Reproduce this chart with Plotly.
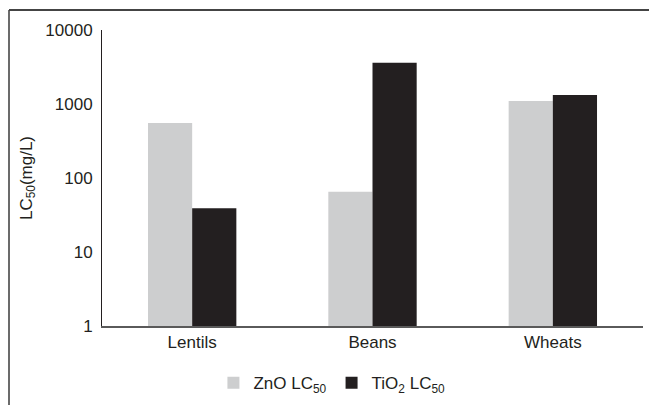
import plotly.graph_objects as go

categories = ["Lentils", "Beans", "Wheats"]
zno_lc50 = [555, 65, 1100]
tio2_lc50 = [39, 3600, 1320]
y_ticks = [1, 10, 100, 1000, 10000]
y_tick_labels = ["1", "10", "100", "1000", "10000"]

FONT = "Liberation Sans, Arial, sans-serif"
TXT = "#231f20"

fig = go.Figure()
fig.add_trace(go.Bar(name="ZnO LC<sub>50</sub>", x=categories, y=zno_lc50,
                     marker=dict(color="#cdcecf", line=dict(width=0))))
fig.add_trace(go.Bar(name="TiO<sub>2</sub> LC<sub>50</sub>", x=categories, y=tio2_lc50,
                     marker=dict(color="#231f20", line=dict(width=0))))

fig.update_layout(
    width=649, height=405,
    margin=dict(l=102, r=6, t=30, b=79, autoexpand=False),
    paper_bgcolor="white", plot_bgcolor="white",
    font=dict(family=FONT, size=17, color=TXT),
    barmode="group", bargap=0.51, bargroupgap=0,
    showlegend=True,
    legend=dict(orientation="h", x=0.425, xanchor="center", y=-0.193, yanchor="middle",
                font=dict(size=17, color=TXT), itemwidth=30, tracegroupgap=0),
    xaxis=dict(showline=True, linecolor="#5a5a5a", linewidth=1.5, ticks="",
               showgrid=False, automargin=False, tickfont=dict(size=17, color=TXT)),
    yaxis=dict(type="log", range=[0, 4], tickvals=y_ticks, ticktext=y_tick_labels,
               showline=True, linecolor="#231f20", linewidth=1, ticks="",
               showgrid=False, zeroline=False, automargin=False, ticklabelstandoff=5,
               tickfont=dict(size=17, color=TXT),
               title=dict(text="LC<sub>50</sub>(mg/L)", font=dict(size=17, color=TXT), standoff=8)),
    shapes=[
        dict(type="line", xref="paper", yref="paper", x0=-0.1719, x1=-0.1719, y0=1.0676, y1=-0.27,
             line=dict(color="#6b6b6b", width=2)),
        dict(type="line", xref="paper", yref="paper", x0=-0.1719, x1=1.02, y0=1.0676, y1=1.0676,
             line=dict(color="#444444", width=2)),
    ],
)

fig.write_html("out.html", config={"displayModeBar": False},
               post_script="document.body.style.margin='0';document.body.style.overflow='hidden';")
